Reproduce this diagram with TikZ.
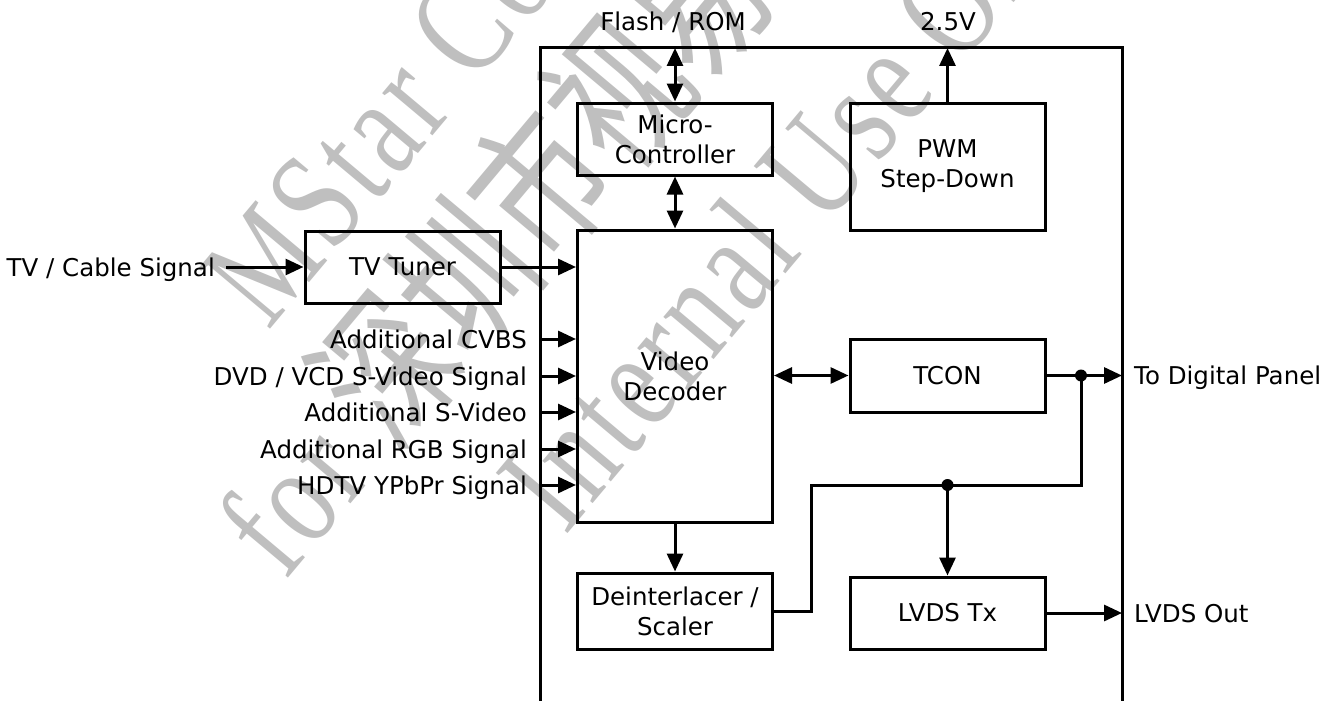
\documentclass[tikz,border=0pt]{standalone}
\usepackage{fontspec}
\setmainfont{DejaVu Sans}
\newfontfamily\wmfont[LetterSpace=5]{Liberation Serif}
\newfontfamily\wmcjk{Noto Sans CJK SC}
\usetikzlibrary{arrows.meta}
\newcommand\diagfont{\fontsize{24.5}{30}\selectfont}
\newcommand\wmsize{\fontsize{143}{143}\selectfont}
\newcommand\wmcjksize{\fontsize{160}{160}\selectfont}
\tikzset{
  box/.style={draw, line width=3pt, minimum width=195pt, minimum height=72pt, inner sep=0pt, align=center, font=\diagfont},
  lab/.style={inner sep=0pt, text height=18pt, text depth=0pt, font=\diagfont},
  wire/.style={line width=3pt},
  arr/.style={line width=3pt, -{Triangle[length=18pt,width=16pt]}},
  darr/.style={line width=3pt, {Triangle[length=18pt,width=16pt]}-{Triangle[length=18pt,width=16pt]}},
  jdot/.style={circle, fill, inner sep=0pt, minimum size=12pt},
  wm/.style={inner sep=0pt, text=black!25, font=\wmfont\wmsize, transform shape}
}
\begin{document}
\begin{tikzpicture}[x=1pt,y=-1pt]
\useasboundingbox (0,0) rectangle (1338,701);
% watermark
\begin{scope}[shift={(268,332)}, rotate=50, xscale=0.75]
  \node[wm, anchor=base west] (wm1) at (0,0) {MStar Confidential};
\end{scope}
\begin{scope}[shift={(285,582)}, rotate=50, xscale=0.75]
  \node[wm, anchor=base west] (wm2) at (0,0) {for {\wmcjk\wmcjksize 深圳市视易}};
\end{scope}
\begin{scope}[shift={(565,537)}, rotate=50, xscale=0.75]
  \node[wm, anchor=base west] (wm3) at (0,0) {Internal Use Only};
\end{scope}
% outer chip
\coordinate (oTL) at (540,48);
\coordinate (oTR) at (1122,48);
\draw[wire, line join=miter] (540,701) -- (oTL) -- (oTR) -- (1122,701);
% blocks
\node[box] (micro) at (675,139) {Micro-\\Controller};
\node[box, minimum height=127pt] (pwm) at (947.5,166.5) {PWM\\Step-Down};
\node[box] (tuner) at (402.5,267) {TV Tuner};
\node[box, minimum height=292pt] (video) at (675,376) {Video\\Decoder};
\node[box, minimum height=73pt] (tcon) at (947.5,375.5) {TCON};
\node[box, minimum height=76pt] (deint) at (675,611) {Deinterlacer /\\Scaler};
\node[box] (lvds) at (947.5,613) {LVDS Tx};
% labels
\node[lab] (flash) at (673,22) {Flash / ROM};
\node[lab] (v25) at (948,22) {2.5V};
\node[lab, anchor=east] (cable) at (215,267) {TV / Cable Signal};
\node[lab, anchor=east] (in1) at (527,339) {Additional CVBS};
\node[lab, anchor=east] (in2) at (527,376) {DVD / VCD S-Video Signal};
\node[lab, anchor=east] (in3) at (527,412) {Additional S-Video};
\node[lab, anchor=east] (in4) at (527,449) {Additional RGB Signal};
\node[lab, anchor=east] (in5) at (527,485) {HDTV YPbPr Signal};
\node[lab, anchor=west] (panel) at (1134,375.5) {To Digital Panel};
\node[lab, anchor=west] (lvdsout) at (1134,613) {LVDS Out};
% connectors
\draw[darr] (micro.north) -- (micro.north |- oTL);
\draw[darr] (micro.south) -- (video.north);
\draw[arr] (pwm.north) -- (pwm.north |- oTL);
\draw[arr] ([xshift=11pt]cable.east) -- (tuner.west);
\draw[arr] (tuner.east) -- (tuner.east -| video.west);
\foreach \n in {in1,in2,in3,in4,in5}
  \draw[arr] (\n.east -| oTL) -- (\n.east -| video.west);
\draw[darr] (tcon.west -| video.east) -- (tcon.west);
\draw[arr] (tcon.east) -- (tcon.east -| oTR);
\coordinate (j1) at (1081,375.5);
\coordinate (j2) at (947.5,485);
\coordinate (bend) at (811,485);
\draw[wire, line join=miter] (j1) -- (j1 |- j2) -- (j2) -- (bend) |- (deint.east);
\draw[arr] (j2) -- (lvds.north);
\node[jdot] at (j1) {};
\node[jdot] at (j2) {};
\draw[arr] (video.south) -- (deint.north);
\draw[arr] (lvds.east) -- (lvds.east -| oTR);
\end{tikzpicture}
\end{document}
